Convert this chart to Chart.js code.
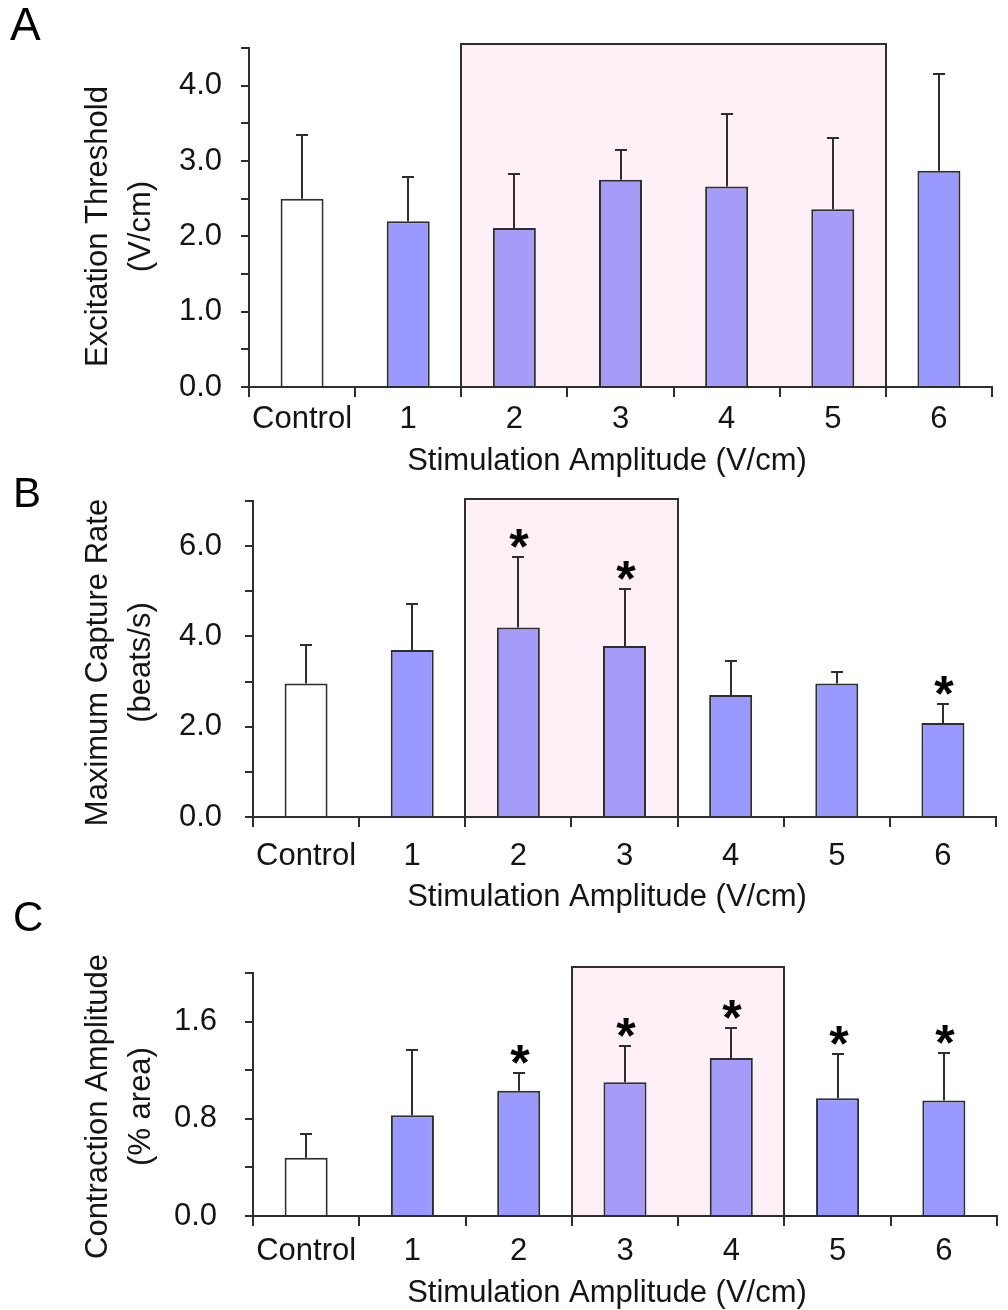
<!DOCTYPE html>
<html><head><meta charset="utf-8">
<script src="https://cdn.jsdelivr.net/npm/chart.js@4.4.0/dist/chart.umd.min.js"></script>
<style>
html,body{margin:0;padding:0;background:#fff;}
body{width:1008px;height:1310px;position:relative;overflow:hidden;}
canvas{position:absolute;left:0;}
</style></head><body>
<canvas id="cA"></canvas><canvas id="cB"></canvas><canvas id="cC"></canvas>
<script>
// ---------------- data ----------------
const categories = ['Control', '1', '2', '3', '4', '5', '6'];

const thresholdMean = [2.50, 2.20, 2.11, 2.75, 2.66, 2.36, 2.87];
const thresholdSD   = [0.84, 0.59, 0.72, 0.40, 0.96, 0.94, 1.29];
const thresholdStar = [false, false, false, false, false, false, false];
const thresholdTicks = ['0.0', '1.0', '2.0', '3.0', '4.0'];

const captureMean = [2.96, 3.70, 4.20, 3.79, 2.70, 2.96, 2.08];
const captureSD   = [0.84, 1.01, 1.55, 1.25, 0.75, 0.25, 0.42];
const captureStar = [false, false, true, true, false, false, true];
const captureTicks = ['0.0', '2.0', '4.0', '6.0'];

const contractionMean = [0.48, 0.83, 1.03, 1.10, 1.30, 0.97, 0.95];
const contractionSD   = [0.195, 0.535, 0.15, 0.30, 0.25, 0.365, 0.39];
const contractionStar = [false, false, true, true, true, true, true];
const contractionTicks = ['0.0', '0.8', '1.6'];

const xTitle = 'Stimulation Amplitude (V/cm)';

// ---------------- styling ----------------
const FONT = "'Liberation Sans', Arial, Helvetica, sans-serif";
const FS = 31;
const INK = '#141414';
const AXIS = '#2e2e2e';
const BLUE = '#9999ff';
const LAVENDER = '#a59bf8';
const PINK = '#fff0f7';

const decor = {
  id: 'decor',
  beforeDraw(chart, args, o) {
    const {ctx, scales: {x, y}} = chart;
    const half = (x.getPixelForValue(1) - x.getPixelForValue(0)) / 2;
    const l = Math.round(x.getPixelForValue(categories.indexOf(o.boxFrom)) - half);
    const r = Math.round(x.getPixelForValue(categories.indexOf(o.boxTo)) + half);
    const t = Math.round(y.getPixelForValue(o.boxTop));
    const b = Math.round(y.getPixelForValue(0));
    ctx.save();
    ctx.fillStyle = PINK;
    ctx.fillRect(l, t, r - l, b - t);
    ctx.strokeStyle = AXIS;
    ctx.lineWidth = 2;
    ctx.strokeRect(l, t, r - l, b - t);
    ctx.restore();
  },
  afterDatasetsDraw(chart, args, o) {
    const {ctx, scales: {x, y}} = chart;
    ctx.save();
    ctx.strokeStyle = AXIS;
    ctx.lineWidth = 2;
    o.mean.forEach((m, i) => {
      const px = Math.round(x.getPixelForValue(i));
      const yb = y.getPixelForValue(m);
      const yt = Math.round(y.getPixelForValue(m + o.sd[i]));
      ctx.beginPath();
      ctx.moveTo(px, yb);
      ctx.lineTo(px, yt);
      ctx.moveTo(px - 6, yt);
      ctx.lineTo(px + 6, yt);
      ctx.stroke();
      if (o.star[i]) {
        ctx.fillStyle = '#000';
        ctx.font = 'bold 50px ' + FONT;
        ctx.textAlign = 'center';
        ctx.textBaseline = 'alphabetic';
        const mt = ctx.measureText('*');
        ctx.fillText('*', px + 1, yt - 9 - mt.actualBoundingBoxDescent);
      }
    });
    ctx.restore();
  },
  afterDraw(chart, args, o) {
    const {ctx, chartArea} = chart;
    ctx.save();
    ctx.fillStyle = INK;
    ctx.font = FS + 'px ' + FONT;
    // x axis title
    ctx.textAlign = 'center';
    ctx.textBaseline = 'alphabetic';
    ctx.fillText(xTitle, o.xTitleX, chartArea.bottom + o.xTitleDy);
    // y axis title (two lines, rotated)
    const cy = (chartArea.top + chartArea.bottom) / 2 + o.yTitleDy;
    o.yTitle.forEach((line, k) => {
      ctx.save();
      ctx.translate(o.yTitleX[k], cy);
      ctx.rotate(-Math.PI / 2);
      ctx.textAlign = 'center';
      ctx.textBaseline = 'middle';
      ctx.fillText(line, 0, 0);
      ctx.restore();
    });
    // panel letter
    ctx.fillStyle = '#000';
    ctx.font = o.letterSize + 'px ' + FONT;
    ctx.textAlign = 'left';
    ctx.textBaseline = 'alphabetic';
    ctx.fillText(o.letter, o.letterX, o.letterY);
    ctx.restore();
  }
};

function makePanel(p) {
  const canvas = document.getElementById(p.id);
  canvas.width = 1008;
  canvas.height = p.height;
  canvas.style.top = p.top + 'px';
  const i0 = categories.indexOf(p.boxFrom), i1 = categories.indexOf(p.boxTo);
  const colors = categories.map((c, i) => i === 0 ? '#ffffff' : (i >= i0 && i <= i1 ? LAVENDER : BLUE));
  return new Chart(canvas, {
    type: 'bar',
    data: {
      labels: categories,
      datasets: [{
        data: p.mean,
        backgroundColor: colors,
        borderColor: AXIS,
        borderWidth: 2,
        categoryPercentage: 1,
        barPercentage: 0.405
      }]
    },
    options: {
      responsive: false,
      animation: false,
      devicePixelRatio: 1,
      layout: {padding: {top: p.padTop, right: p.padRight, left: 0, bottom: 0}},
      plugins: {
        legend: {display: false},
        tooltip: {enabled: false},
        decor: {
          mean: p.mean, sd: p.sd, star: p.star,
          boxFrom: p.boxFrom, boxTo: p.boxTo, boxTop: p.boxTop,
          yTitle: p.yTitle, yTitleX: [98, 141], yTitleDy: p.yTitleDy,
          xTitleX: 607, xTitleDy: p.xTitleDy,
          letter: p.letter, letterX: p.letterX, letterY: p.letterY, letterSize: p.letterSize
        }
      },
      scales: {
        x: {
          type: 'category',
          offset: true,
          grid: {offset: true, drawOnChartArea: false, drawTicks: true, tickLength: 10, color: AXIS, lineWidth: 2},
          border: {display: true, color: AXIS, width: 2},
          ticks: {color: INK, font: {family: FONT, size: FS}, padding: p.xTickPad, autoSkip: false, maxRotation: 0, minRotation: 0},
          afterFit(s) { s.height = p.xHeight; }
        },
        y: {
          type: 'linear',
          min: 0,
          max: p.yMax,
          grid: {drawOnChartArea: false, drawTicks: true, tickLength: 8, color: AXIS, lineWidth: 2},
          border: {display: true, color: AXIS, width: 2},
          ticks: {
            stepSize: p.yStep,
            autoSkip: false,
            color: INK,
            font: {family: FONT, size: FS},
            padding: p.yTickPad,
            callback: (v) => { const s = Number(v).toFixed(1); return p.yLabels.includes(s) ? s : ''; }
          },
          afterFit(s) { s.width = p.yWidth; }
        }
      }
    },
    plugins: [decor]
  });
}

makePanel({
  id: 'cA', top: 0, height: 490, padTop: 48, padRight: 16, yWidth: 249, xHeight: 103,
  mean: thresholdMean, sd: thresholdSD, star: thresholdStar,
  yMax: 4.5, yStep: 0.5, yLabels: thresholdTicks, yTickPad: 19, xTickPad: 4,
  boxFrom: '2', boxTo: '5', boxTop: 4.55,
  yTitle: ['Excitation Threshold', '(V/cm)'], yTitleDy: 9, xTitleDy: 83,
  letter: 'A', letterX: 10, letterY: 40, letterSize: 46
});
makePanel({
  id: 'cB', top: 440, height: 480, padTop: 61, padRight: 12, yWidth: 253, xHeight: 103,
  mean: captureMean, sd: captureSD, star: captureStar,
  yMax: 7, yStep: 1, yLabels: captureTicks, yTickPad: 23, xTickPad: 11,
  boxFrom: '2', boxTo: '3', boxTop: 7.05,
  yTitle: ['Maximum Capture Rate', '(beats/s)'], yTitleDy: 3.5, xTitleDy: 89,
  letter: 'B', letterX: 13, letterY: 67, letterSize: 42
});
makePanel({
  id: 'cC', top: 900, height: 410, padTop: 73, padRight: 11, yWidth: 253, xHeight: 94,
  mean: contractionMean, sd: contractionSD, star: contractionStar,
  yMax: 2.0, yStep: 0.4, yLabels: contractionTicks, yTickPad: 28, xTickPad: 7,
  boxFrom: '3', boxTo: '4', boxTop: 2.05,
  yTitle: ['Contraction Amplitude', '(% area)'], yTitleDy: 12, xTitleDy: 86,
  letter: 'C', letterX: 13, letterY: 31, letterSize: 42
});
</script>
</body></html>
